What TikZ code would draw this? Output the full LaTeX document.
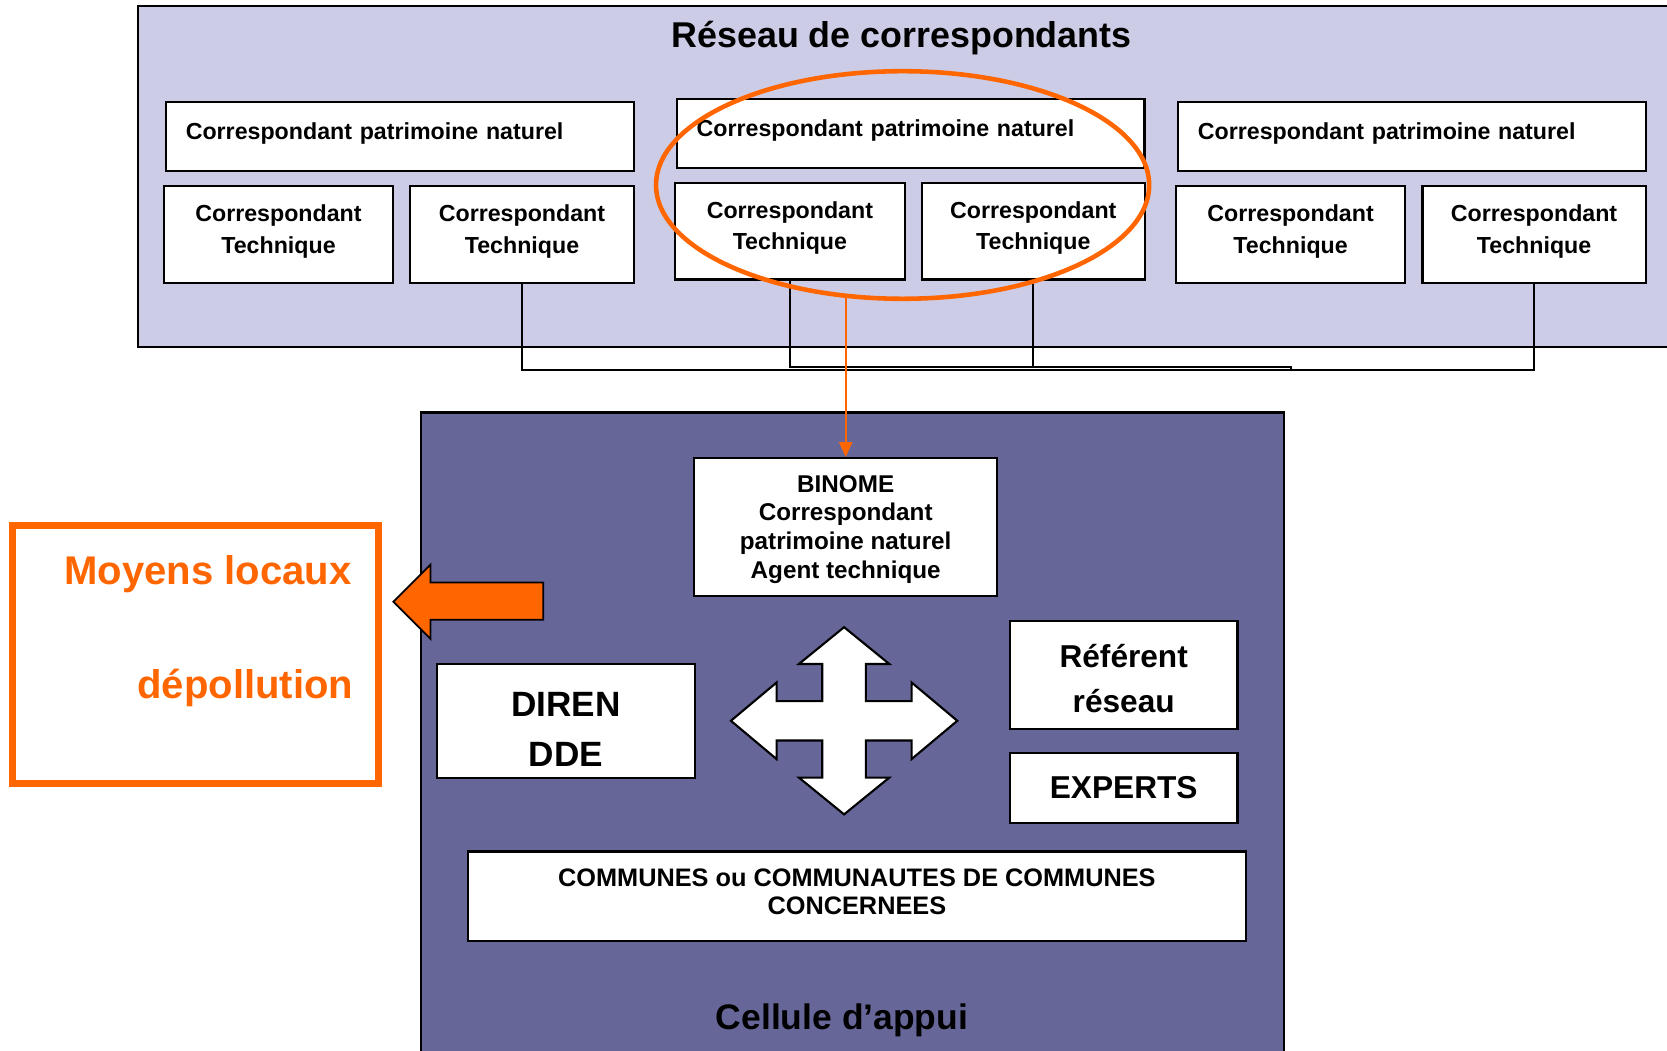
\documentclass[tikz,border=0pt]{standalone}
\usepackage{fontspec}
\setmainfont{Liberation Sans}
\usetikzlibrary{shapes.geometric,arrows.meta}

\definecolor{lavande}{RGB}{204,204,230}
\definecolor{ardoise}{RGB}{102,102,153}
\definecolor{orangevif}{RGB}{255,102,0}

\begin{document}
\begin{tikzpicture}[
  box/.style={draw=black,fill=white,line width=0.6pt,inner sep=0pt},
  cpn/.style={box,minimum height=0.691cm,text width=4.278cm,inner xsep=0.2cm,align=left,
    text height=1.6ex,text depth=1.29ex,font=\bfseries\fontsize{6.6}{8}\selectfont},
  ct/.style={box,minimum width=#1,minimum height=0.967cm,align=center,
    text height=12.1pt,text depth=1.4pt,font=\bfseries\fontsize{6.6}{9.1}\selectfont},
  orangetxt/.style={text=orangevif,inner sep=0pt,font=\bfseries\fontsize{11.4}{13}\selectfont}
]

\useasboundingbox (0,0) rectangle (16.67,-10.503);
\clip (0,0) rectangle (16.67,-10.503);

% Draw the two big frames
\filldraw[draw=black,fill=lavande,line width=0.6pt] (1.382,-0.064) rectangle (16.9,-3.466);
\filldraw[draw=black,fill=ardoise,line width=0.6pt] (4.210,-4.125) rectangle (12.842,-10.8);

\node[font=\bfseries\fontsize{10.2}{12}\selectfont] (titre) at (9.015,-0.383) {Réseau de correspondants};
\node[font=\bfseries\fontsize{10.1}{12}\selectfont] (cellule) at (8.420,-10.206) {Cellule d’appui};

% Draw the correspondants
\node[cpn] (cpn1) at (3.997,-1.366) {Correspondant patrimoine naturel};
\node[cpn] (cpn2) at (9.106,-1.334) {Correspondant patrimoine naturel};
\node[cpn] (cpn3) at (14.118,-1.366) {Correspondant patrimoine naturel};

\node[ct=2.296cm] (ct1) at (2.785,-2.344) {Correspondant\\Technique};
\node[ct=2.233cm] (ct2) at (5.220,-2.344) {Correspondant\\Technique};
\node[ct=2.296cm] (ct3) at (7.899,-2.312) {Correspondant\\Technique};
\node[ct=2.233cm] (ct4) at (10.333,-2.312) {Correspondant\\Technique};
\node[ct=2.296cm] (ct5) at (12.906,-2.344) {Correspondant\\Technique};
\node[ct=2.233cm] (ct6) at (15.341,-2.344) {Correspondant\\Technique};

% Draw the links under the frame
\coordinate (bus) at (0,-3.700);
\coordinate (bus2) at (0,-3.672);
\draw[line width=0.6pt] (ct2.south) -- (ct2.south |- bus) -- (ct6.south |- bus) -- (ct6.south);
\draw[line width=0.6pt] (ct3.south) -- (ct3.south |- bus2) -- (ct5.south |- bus2) -- (ct5.south |- bus);
\draw[line width=0.6pt] (ct4.south) -- (ct4.south |- bus2);

% Draw the cellule d'appui
\node[box,minimum width=3.030cm,minimum height=1.382cm,align=center,text height=30.6pt,text depth=1.4pt,
  font=\bfseries\fontsize{6.9}{8.2}\selectfont] (binome) at (8.457,-5.273)
  {BINOME\\Correspondant\\patrimoine naturel\\Agent technique};
\node[box,minimum width=2.583cm,minimum height=1.138cm,align=center,text height=26pt,text depth=0pt,
  font=\bfseries\fontsize{10}{14.5}\selectfont] (diren) at (5.661,-7.213) {DIREN\\DDE};
\node[box,minimum width=2.275cm,minimum height=1.084cm,align=center,text height=21.5pt,text depth=0pt,
  font=\bfseries\fontsize{9}{13}\selectfont] (referent) at (11.237,-6.751) {Référent\\réseau};
\node[box,minimum width=2.275cm,minimum height=0.702cm,
  font=\bfseries\fontsize{9}{11}\selectfont] (experts) at (11.237,-7.878) {EXPERTS};
\node[box,minimum width=7.782cm,minimum height=0.893cm,align=center,text height=10.7pt,text depth=0pt,
  font=\bfseries\fontsize{7.2}{8.2}\selectfont] (communes) at (8.569,-8.962)
  {COMMUNES ou COMMUNAUTES DE COMMUNES\\CONCERNEES};

% Draw the four way arrow
\filldraw[draw=black,fill=white,line width=0.6pt,shift={(8.441,-7.208)}]
  (0,0.936) -- (0.452,0.568) -- (0.218,0.568) -- (0.218,0.197) -- (0.675,0.197)
  -- (0.675,0.383) -- (1.132,0) -- (0.675,-0.383) -- (0.675,-0.197) -- (0.218,-0.197)
  -- (0.218,-0.568) -- (0.452,-0.568) -- (0,-0.936) -- (-0.452,-0.568) -- (-0.218,-0.568)
  -- (-0.218,-0.197) -- (-0.675,-0.197) -- (-0.675,-0.383) -- (-1.132,0) -- (-0.675,0.383)
  -- (-0.675,0.197) -- (-0.218,0.197) -- (-0.218,0.568) -- (-0.452,0.568) -- cycle;

% Draw the moyens locaux
\node[draw=orangevif,fill=white,line width=2pt,minimum width=3.657cm,minimum height=2.583cm] (moyens) at (1.956,-6.543) {};
\node[orangetxt,anchor=base east] (moyens1) at (3.525,-5.847) {Moyens locaux};
\node[orangetxt,anchor=base east] (moyens2) at (3.540,-6.985) {dépollution};

\filldraw[draw=black,fill=orangevif,line width=0.5pt]
  (3.934,-6.017) -- (4.306,-5.645) -- (4.306,-5.826) -- (5.432,-5.826)
  -- (5.432,-6.198) -- (4.306,-6.198) -- (4.306,-6.389) -- cycle;

% Draw the highlight in orange
\node[draw=orangevif,line width=1.3pt,ellipse,inner sep=0pt,
  minimum width=4.932cm,minimum height=2.276cm] (focus) at (9.026,-1.850) {};
\draw[orangevif,line width=0.6pt,-{Triangle[length=0.15cm,width=0.13cm]}]
  ([yshift=0.04cm]focus.south -| binome.north) -- (binome.north);

\end{tikzpicture}
\end{document}
